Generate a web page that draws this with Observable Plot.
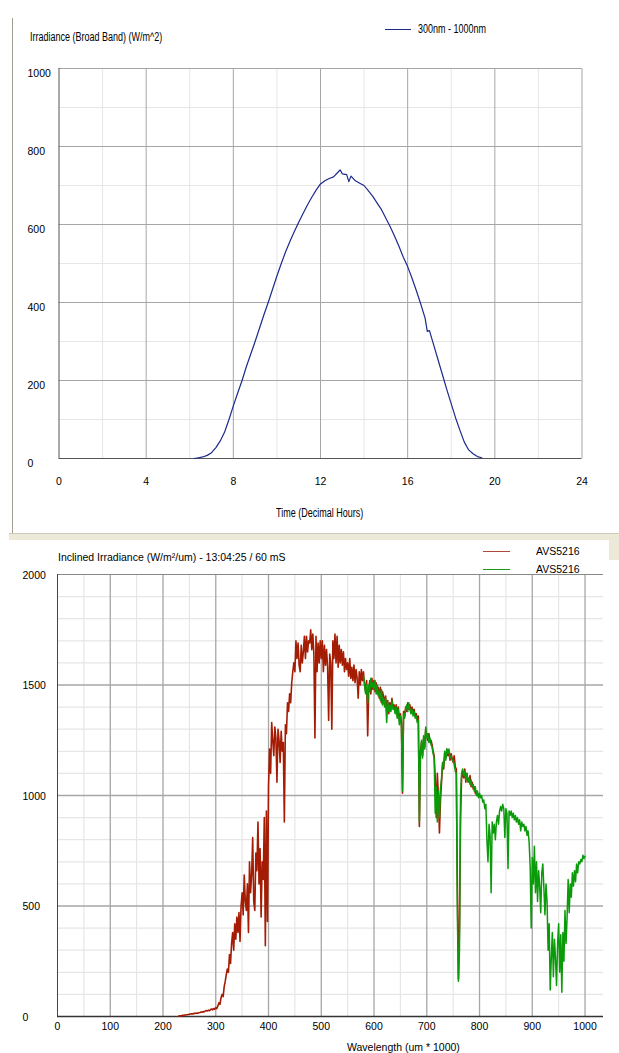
<!DOCTYPE html>
<html>
<head>
<meta charset="utf-8">
<script src="https://cdn.jsdelivr.net/npm/d3@7"></script>
<script src="https://cdn.jsdelivr.net/npm/@observablehq/plot@0.6"></script>
<style>
  html, body { margin: 0; padding: 0; background: #fff; overflow: hidden; }
  #page { position: relative; width: 619px; height: 1053px; overflow: hidden; background: #fff; }
  .abs { position: absolute; white-space: nowrap; }
  .narrow { font-family: "Liberation Sans", Arial, sans-serif; font-size: 12px; line-height: 14px; color: #000; transform: scaleX(0.75); transform-origin: 0 50%; }
  .reg { font-family: "Liberation Sans", Arial, sans-serif; font-size: 10.5px; line-height: 14px; color: #000; }
  .chart { position: absolute; left: 0; }
  .chart svg { display: block; }
</style>
</head>
<body>
<div id="page">
  <!-- window chrome of the upper panel -->
  <div class="abs" style="left:12px;top:18px;width:1px;height:516px;background:#a29e8e;"></div>
  <div class="abs" style="left:9px;top:533px;width:610px;height:6px;background:#ece9d8;border-top:1px solid #cfcbbb;"></div>
  <div class="abs" style="left:609px;top:540px;width:10px;height:20px;background:#ece9d8;"></div>

  <!-- upper panel texts -->
  <div class="abs narrow" style="left:30px;top:30px;">Irradiance (Broad Band) (W/m^2)</div>
  <div class="abs" style="left:385px;top:29px;width:26px;height:1px;background:#1b2a8c;"></div>
  <div class="abs narrow" style="left:418px;top:22px;">300nm - 1000nm</div>
  <div class="abs narrow" style="left:276px;top:506px;">Time (Decimal Hours)</div>

  <!-- lower panel texts -->
  <div class="abs reg" style="left:58px;top:550px;">Inclined Irradiance (W/m²/um) - 13:04:25 / 60 mS</div>
  <div class="abs" style="left:483px;top:551px;width:27px;height:1px;background:#b0483a;"></div>
  <div class="abs reg" style="left:536px;top:544px;">AVS5216</div>
  <div class="abs" style="left:483px;top:569px;width:27px;height:1px;background:#1a9a1a;"></div>
  <div class="abs reg" style="left:536px;top:562px;">AVS5216</div>
  <div class="abs reg" style="left:347px;top:1040px;">Wavelength (um * 1000)</div>

  <div id="dayChart" class="chart" style="top:0px;"></div>
  <div id="specChart" class="chart" style="top:540px;"></div>
</div>
<script>
// Broad band irradiance over the day (W/m^2)
const dayHours = [6.2, 6.4, 6.6, 6.8, 7.0, 7.2, 7.4, 7.6, 7.8, 8.0, 8.2, 8.4, 8.6, 8.8, 9.0, 9.2, 9.4, 9.6, 9.8,
  10.0, 10.2, 10.4, 10.6, 10.8, 11.0, 11.2, 11.4, 11.6, 11.8, 12.0, 12.2, 12.4, 12.6, 12.8, 12.9, 13.0, 13.2, 13.3,
  13.4, 13.6, 13.8, 14.0, 14.2, 14.4, 14.6, 14.8, 15.0, 15.2, 15.4, 15.6, 15.8, 16.0, 16.2, 16.4, 16.6, 16.8, 16.9,
  17.0, 17.2, 17.4, 17.6, 17.8, 18.0, 18.2, 18.4, 18.6, 18.8, 19.0, 19.2, 19.4];
const dayIrradiance = [0, 2, 4, 8, 15, 28, 45, 68, 100, 135, 168, 200, 236, 268, 300, 334, 368, 400, 434,
  468, 500, 530, 557, 582, 606, 628, 650, 670, 688, 704, 712, 718, 722, 734, 740, 730, 728, 710,
  724, 712, 706, 700, 686, 672, 655, 638, 616, 594, 570, 544, 516, 492, 462, 430, 396, 360, 326,
  328, 290, 252, 214, 176, 140, 104, 72, 42, 22, 12, 5, 2];
const hourTicks = [0, 4, 8, 12, 16, 20, 24];
const hourMinor = [2, 6, 10, 14, 18, 22];
const irrTicks = [0, 200, 400, 600, 800, 1000];
const irrMinor = [100, 300, 500, 700, 900];

// Spectral irradiance (W/m²/um), one reading every 2 nm
const specStep = 2;
const redStart = 230;
const redValues = [
  2, 3, 3, 4, 5,   6, 7, 8, 8, 9,   10, 11, 12, 12, 13,   14, 15, 16, 15, 17,
  18, 20, 19, 22, 21,   24, 27, 25, 28, 26,   31, 34, 30, 36, 33,
  40, 36, 48, 62, 55,   85, 100, 90, 135, 160,   190, 215, 200, 280, 240,
  330, 380, 300, 420, 350,   450, 380, 470, 340, 500,   560, 460, 640, 520, 480,
  600, 380, 700, 560, 640,   810, 520, 480, 740, 660,   880, 600, 760, 450, 700,
  620, 900, 320, 930, 430,   1040, 1210, 1100, 1330, 1250,   1180, 1310, 1260, 1060, 1300,
  1250, 1150, 1290, 1200, 1240,   880, 1320, 1280, 1420, 1380,   1460, 1420, 1510, 1560, 1600,
  1560, 1700, 1620, 1690, 1590,   1560, 1680, 1600, 1650, 1720,   1620, 1720, 1650, 1700, 1690,
  1750, 1660, 1730, 1640, 1260,   1720, 1560, 1690, 1600, 1700,   1620, 1700, 1560, 1680, 1590,
  1660, 1580, 1340, 1640, 1600,   1300, 1700, 1620, 1730, 1600,   1720, 1580, 1680, 1600, 1660,
  1590, 1650, 1560, 1620, 1570,   1600, 1540, 1620, 1530, 1580,   1520, 1590, 1510, 1570, 1530,
  1440, 1560, 1500, 1570, 1520,   1560, 1500, 1470, 1520, 1270,   1480, 1520, 1460, 1530, 1480,
  1520, 1470, 1510, 1460, 1490,   1440, 1490, 1420, 1470, 1450,   1420, 1450, 1380, 1430, 1370,
  1420, 1390, 1440, 1400, 1410,   1380, 1410, 1360, 1400, 1340,   1370, 1330, 1010, 1380, 1360,
  1400, 1380, 1420, 1390, 1410,   1380, 1400, 1370, 1390, 1360,   1370, 1340, 1360, 860, 1200,
  1240, 1180, 1260, 1220, 1300,   1270, 1250, 1280, 1240, 1250,   1230, 1200, 1180, 1080, 900,
  1100, 1000, 830, 980, 1060,   1140, 1120, 1190, 1170, 1210,   1180, 1200, 1160, 1190, 1170,
  1150, 1180, 1130, 1120, 600,   170, 400, 900, 1080, 1110,   1080, 1120, 1060, 1100, 1070,
  1060, 1090, 1040, 1060, 1030,   1040, 1010, 1020, 1000];
const greenStart = 580;
const greenValues = [
  1540, 1510, 1460, 1500, 1420,   1500, 1470, 1530, 1490, 1510,   1480, 1520, 1460, 1500, 1450,
  1470, 1430, 1480, 1410, 1440,   1400, 1440, 1330, 1420, 1380,   1410, 1380, 1430, 1390, 1400,
  1370, 1400, 1350, 1390, 1320,   1360, 1310, 1020, 1370, 1350,   1390, 1410, 1380, 1420, 1390,
  1370, 1390, 1360, 1380, 1350,   1360, 1330, 1340, 880, 1180,   1250, 1170, 1270, 1210, 1310,
  1260, 1280, 1240, 1260, 1230,   1220, 1190, 1170, 920, 1040,   880, 1020, 900, 1030, 1080,
  1150, 1130, 1200, 1160, 1210,   1190, 1210, 1170, 1180, 1160,   1160, 1140, 1110, 1100, 450,
  160, 300, 1000, 1100, 1120,   1090, 1110, 1070, 1100, 1060,   1080, 1050, 1070, 1040, 1050,
  1020, 1040, 1000, 1020, 990,   1010, 990, 1000, 970, 980,   940, 960, 800, 700, 870,
  820, 560, 880, 830, 870,   800, 880, 910, 870, 930,   950, 930, 960, 940, 810,
  940, 920, 670, 930, 910,   930, 900, 920, 890, 910,   880, 900, 870, 890, 840,
  880, 860, 870, 840, 860,   820, 840, 790, 680, 400,   720, 600, 770, 560, 700,
  520, 660, 590, 470, 650,   690, 580, 460, 600, 520,   300, 420, 120, 260, 380,
  180, 350, 260, 140, 330,   420, 200, 370, 110, 380,   250, 480, 330, 450, 620,
  470, 600, 540, 650, 590,   660, 610, 690, 650, 700,   690, 710, 700, 730, 715,
  725];
const waveTicks = [0, 100, 200, 300, 400, 500, 600, 700, 800, 900, 1000];
const waveMinor = [50, 150, 250, 350, 450, 550, 650, 750, 850, 950];
const specTicks = [0, 500, 1000, 1500, 2000];
const specMinor = [100, 200, 300, 400, 600, 700, 800, 900, 1100, 1200, 1300, 1400, 1600, 1700, 1800, 1900];

const regFont = '"Liberation Sans", Arial, sans-serif';
const plainNumber = d3.format("d");

const dayData = dayHours.map((h, i) => ({h, v: dayIrradiance[i]}));
const redData = redValues.map((v, i) => ({w: redStart + i * specStep, v}));
const greenData = greenValues.map((v, i) => ({w: greenStart + i * specStep, v}));

const minorGrid = "#e6e6e6";
const majorGrid = "#a6a6a6";

const dayChart = Plot.plot({
  width: 619,
  height: 530,
  marginLeft: 58.5,
  marginRight: 37.5,
  marginTop: 68,
  marginBottom: 72,
  style: {background: "transparent", fontFamily: regFont, fontSize: "10.5px", color: "#000", overflow: "visible"},
  x: {domain: [0, 24]},
  y: {domain: [0, 1000]},
  marks: [
    Plot.ruleX(hourMinor, {stroke: minorGrid}),
    Plot.ruleY(irrMinor, {stroke: minorGrid}),
    Plot.ruleX(hourTicks.slice(1), {stroke: majorGrid}),
    Plot.ruleY(irrTicks.slice(1), {stroke: majorGrid}),
    Plot.ruleX([0], {stroke: "#555"}),
    Plot.ruleY([0], {stroke: "#555"}),
    Plot.axisX({ticks: hourTicks, tickFormat: plainNumber, tickSize: 0, tickPadding: 19, label: null}),
    Plot.axisY({ticks: irrTicks, tickFormat: plainNumber, tickSize: 0, tickPadding: 31.5, textAnchor: "start", dy: 5, label: null}),
    Plot.line(dayData, {x: "h", y: "v", stroke: "#1b2a8c", strokeWidth: 1.2})
  ]
});
document.getElementById("dayChart").appendChild(dayChart);

const specChart = Plot.plot({
  width: 619,
  height: 513,
  marginLeft: 57,
  marginRight: 16,
  marginTop: 34,
  marginBottom: 37,
  style: {background: "transparent", fontFamily: regFont, fontSize: "10.5px", color: "#000", overflow: "visible"},
  x: {domain: [0, 1035]},
  y: {domain: [0, 2000]},
  marks: [
    Plot.ruleX(waveMinor, {stroke: minorGrid, strokeWidth: 1.2}),
    Plot.ruleY(specMinor, {stroke: minorGrid, strokeWidth: 1.2}),
    Plot.ruleX(waveTicks.slice(1), {stroke: majorGrid, strokeWidth: 1.3}),
    Plot.ruleY(specTicks.slice(1, -1), {stroke: majorGrid, strokeWidth: 1.3}),
    Plot.ruleY([2000], {stroke: "#888"}),
    Plot.ruleX([0], {stroke: "#444"}),
    Plot.ruleY([0], {stroke: "#333", strokeWidth: 1.5}),
    Plot.axisX({ticks: waveTicks, tickFormat: plainNumber, tickSize: 0, tickPadding: 6, label: null}),
    Plot.axisY({ticks: specTicks, tickFormat: plainNumber, tickSize: 0, tickPadding: 35, textAnchor: "start", dy: 1, label: null}),
    Plot.line(redData, {x: "w", y: "v", stroke: "#a51c04", strokeWidth: 1.6}),
    Plot.line(greenData, {x: "w", y: "v", stroke: "#0a9a0a", strokeWidth: 1.5})
  ]
});
document.getElementById("specChart").appendChild(specChart);
</script>
</body>
</html>
